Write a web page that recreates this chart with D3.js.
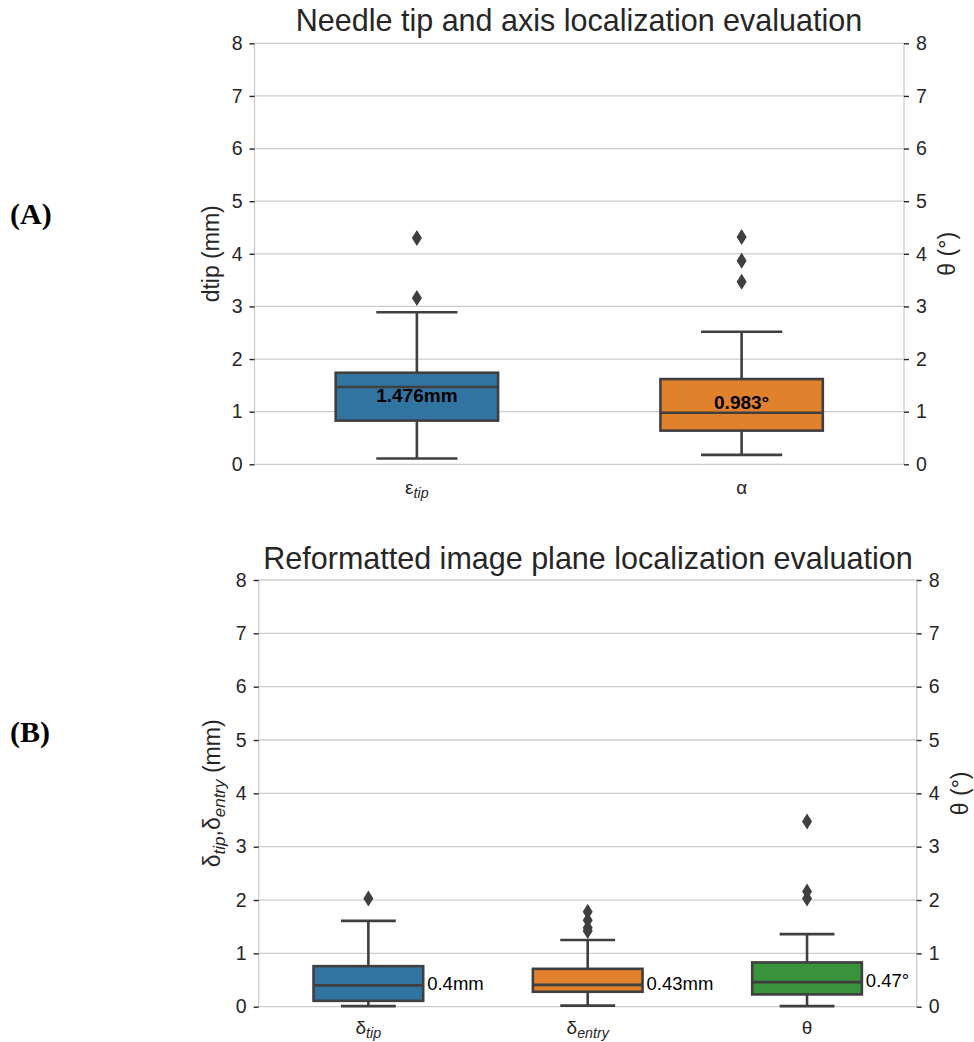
<!DOCTYPE html>
<html>
<head>
<meta charset="utf-8">
<script src="https://cdn.jsdelivr.net/npm/d3@7"></script>
<style>
  html, body { margin: 0; padding: 0; background: #fff; }
  svg { display: block; }
  text { font-family: "Liberation Sans", Arial, sans-serif; fill: #262626; }
</style>
</head>
<body>
<svg id="chart" width="974" height="1042"></svg>
<script>
// ---------- DATA ----------
// Panel A
const topCategories = ["ε_tip", "α"];
const topQ1 = [0.83, 0.64];
const topMedian = [1.47, 0.98];
const topQ3 = [1.74, 1.62];
const topWhiskerLow = [0.11, 0.18];
const topWhiskerHigh = [2.89, 2.52];
const topOutliers = [[4.30, 3.16], [4.32, 3.87, 3.47]];
const topAnnotations = ["1.476mm", "0.983°"];

// Panel B
const botCategories = ["δ_tip", "δ_entry", "θ"];
const botQ1 = [0.11, 0.28, 0.23];
const botMedian = [0.40, 0.41, 0.46];
const botQ3 = [0.76, 0.71, 0.83];
const botWhiskerLow = [0.01, 0.02, 0.01];
const botWhiskerHigh = [1.61, 1.25, 1.36];
const botOutliers = [[2.03], [1.78, 1.62, 1.48, 1.42], [3.47, 2.16, 2.03]];
const botAnnotations = ["0.4mm", "0.43mm", "0.47°"];

const yTicks = [0, 1, 2, 3, 4, 5, 6, 7, 8];
const palette = ["#3274a1", "#e1812c", "#3a923a"];

// ---------- DRAW ----------
const svg = d3.select("#chart");
const gridColor = "#cccccc";
const boxStroke = "#3f3f3f";

function addSubText(sel, label, size) {
  const parts = label.split("_");
  sel.append("tspan").text(parts[0]);
  if (parts[1]) {
    sel.append("tspan")
      .attr("font-style", "italic")
      .attr("font-size", size * 0.75)
      .attr("dy", size * 0.22)
      .text(parts[1]);
  }
}

function panel(opt) {
  const { left, right, top, bottom, cats, q1, med, q3, wlo, whi, outl,
          ann, annInside, title, titleX, titleY, yLabelLeft, yLabelLeftX,
          yLabelRightX, xLabelY } = opt;
  const g = svg.append("g");
  const x = d3.scaleBand().domain(cats).range([left, right]).padding(0);
  const y = d3.scaleLinear().domain([0, 8]).range([bottom, top]);

  // grid
  g.append("g").selectAll("line").data(yTicks).join("line")
    .attr("x1", left).attr("x2", right)
    .attr("y1", d => y(d)).attr("y2", d => y(d))
    .attr("stroke", gridColor).attr("stroke-width", 1.3);

  // spines
  g.append("line").attr("x1", left).attr("x2", left).attr("y1", top).attr("y2", bottom)
    .attr("stroke", gridColor).attr("stroke-width", 1.3);
  g.append("line").attr("x1", right).attr("x2", right).attr("y1", top).attr("y2", bottom)
    .attr("stroke", gridColor).attr("stroke-width", 1.3);

  // left axis
  const axL = d3.axisLeft(y).tickValues(yTicks).tickSize(5).tickPadding(7).tickFormat(d3.format("d"));
  const gL = g.append("g").attr("transform", `translate(${left},0)`).call(axL);
  gL.select(".domain").remove();
  gL.selectAll(".tick line").attr("stroke", "#262626").attr("stroke-width", 1.4);
  gL.selectAll(".tick text").attr("font-size", 19.5).attr("fill", "#262626")
    .attr("font-family", "Liberation Sans, Arial, sans-serif");

  // right axis
  const axR = d3.axisRight(y).tickValues(yTicks).tickSize(5).tickPadding(7).tickFormat(d3.format("d"));
  const gR = g.append("g").attr("transform", `translate(${right},0)`).call(axR);
  gR.select(".domain").remove();
  gR.selectAll(".tick line").attr("stroke", "#262626").attr("stroke-width", 1.4);
  gR.selectAll(".tick text").attr("font-size", 19.5).attr("fill", "#262626")
    .attr("font-family", "Liberation Sans, Arial, sans-serif");

  const bw = x.bandwidth();
  const boxW = bw * 0.5;
  const capW = bw * 0.25;

  cats.forEach((c, i) => {
    const cx = x(c) + bw / 2;
    // whiskers
    g.append("line").attr("x1", cx).attr("x2", cx).attr("y1", y(q3[i])).attr("y2", y(whi[i]))
      .attr("stroke", boxStroke).attr("stroke-width", 2.6);
    g.append("line").attr("x1", cx).attr("x2", cx).attr("y1", y(q1[i])).attr("y2", y(wlo[i]))
      .attr("stroke", boxStroke).attr("stroke-width", 2.6);
    g.append("line").attr("x1", cx - capW / 2).attr("x2", cx + capW / 2)
      .attr("y1", y(whi[i])).attr("y2", y(whi[i]))
      .attr("stroke", boxStroke).attr("stroke-width", 2.6);
    g.append("line").attr("x1", cx - capW / 2).attr("x2", cx + capW / 2)
      .attr("y1", y(wlo[i])).attr("y2", y(wlo[i]))
      .attr("stroke", boxStroke).attr("stroke-width", 2.6);
    // box
    g.append("rect").attr("x", cx - boxW / 2).attr("width", boxW)
      .attr("y", y(q3[i])).attr("height", y(q1[i]) - y(q3[i]))
      .attr("fill", palette[i]).attr("stroke", boxStroke).attr("stroke-width", 2.6);
    // median
    g.append("line").attr("x1", cx - boxW / 2).attr("x2", cx + boxW / 2)
      .attr("y1", y(med[i])).attr("y2", y(med[i]))
      .attr("stroke", boxStroke).attr("stroke-width", 2.6);
    // outliers
    g.append("g").selectAll("path").data(outl[i]).join("path")
      .attr("d", d => { const yy = y(d); return `M${cx},${yy - 8}L${cx + 5},${yy}L${cx},${yy + 8}L${cx - 5},${yy}Z`; })
      .attr("fill", boxStroke);
    // annotation
    if (annInside) {
      g.append("text").attr("x", cx).attr("y", y(med[i]) + opt.annDy[i])
        .attr("text-anchor", "middle").attr("font-size", 19).attr("font-weight", "bold")
        .style("fill", "#000").text(ann[i]);
    } else {
      g.append("text").attr("x", cx + boxW / 2 + 4).attr("y", y(med[i]) + 5)
        .attr("font-size", 18.5).style("fill", "#000").text(ann[i]);
    }
    // x tick label
    const t = g.append("text").attr("x", cx).attr("y", xLabelY)
      .attr("text-anchor", "middle").attr("font-size", 19)
      .attr("font-family", "DejaVu Sans, sans-serif");
    addSubText(t, c, 19);
  });

  // title
  g.append("text").attr("x", titleX).attr("y", titleY).attr("text-anchor", "middle")
    .attr("font-size", 30.5).text(title);

  // left y label
  const yl = g.append("text")
    .attr("transform", `translate(${yLabelLeftX},${(top + bottom) / 2}) rotate(-90)`)
    .attr("text-anchor", "middle").attr("font-size", 23);
  yLabelLeft(yl);

  // right y label
  g.append("text")
    .attr("transform", `translate(${yLabelRightX},${(top + bottom) / 2}) rotate(-90)`)
    .attr("text-anchor", "middle").attr("font-size", 23).text("θ (°)");
}

panel({
  left: 254.5, right: 904, top: 43.3, bottom: 464.3,
  cats: topCategories, q1: topQ1, med: topMedian, q3: topQ3,
  wlo: topWhiskerLow, whi: topWhiskerHigh, outl: topOutliers,
  ann: topAnnotations, annInside: true, annDy: [15, -4],
  title: "Needle tip and axis localization evaluation", titleX: 579, titleY: 31,
  yLabelLeft: t => t.text("dtip (mm)"), yLabelLeftX: 219, yLabelRightX: 955, xLabelY: 494
});

panel({
  left: 258.7, right: 916.7, top: 580, bottom: 1006.7,
  cats: botCategories, q1: botQ1, med: botMedian, q3: botQ3,
  wlo: botWhiskerLow, whi: botWhiskerHigh, outl: botOutliers,
  ann: botAnnotations, annInside: false,
  title: "Reformatted image plane localization evaluation", titleX: 588, titleY: 569,
  yLabelLeft: t => {
    t.append("tspan").text("δ");
    t.append("tspan").attr("font-style", "italic").attr("font-size", 17).attr("dy", 5).text("tip");
    t.append("tspan").attr("dy", -5).text(",δ");
    t.append("tspan").attr("font-style", "italic").attr("font-size", 17).attr("dy", 5).text("entry");
    t.append("tspan").attr("dy", -5).text(" (mm)");
  },
  yLabelLeftX: 220, yLabelRightX: 968, xLabelY: 1034
});

// panel letters
svg.append("text").attr("x", 10).attr("y", 224).attr("font-size", 30)
  .attr("font-weight", "bold").style("font-family", "Liberation Serif, Times New Roman, serif")
  .style("fill", "#000").text("(A)");
svg.append("text").attr("x", 10).attr("y", 742).attr("font-size", 30)
  .attr("font-weight", "bold").style("font-family", "Liberation Serif, Times New Roman, serif")
  .style("fill", "#000").text("(B)");
</script>
</body>
</html>
